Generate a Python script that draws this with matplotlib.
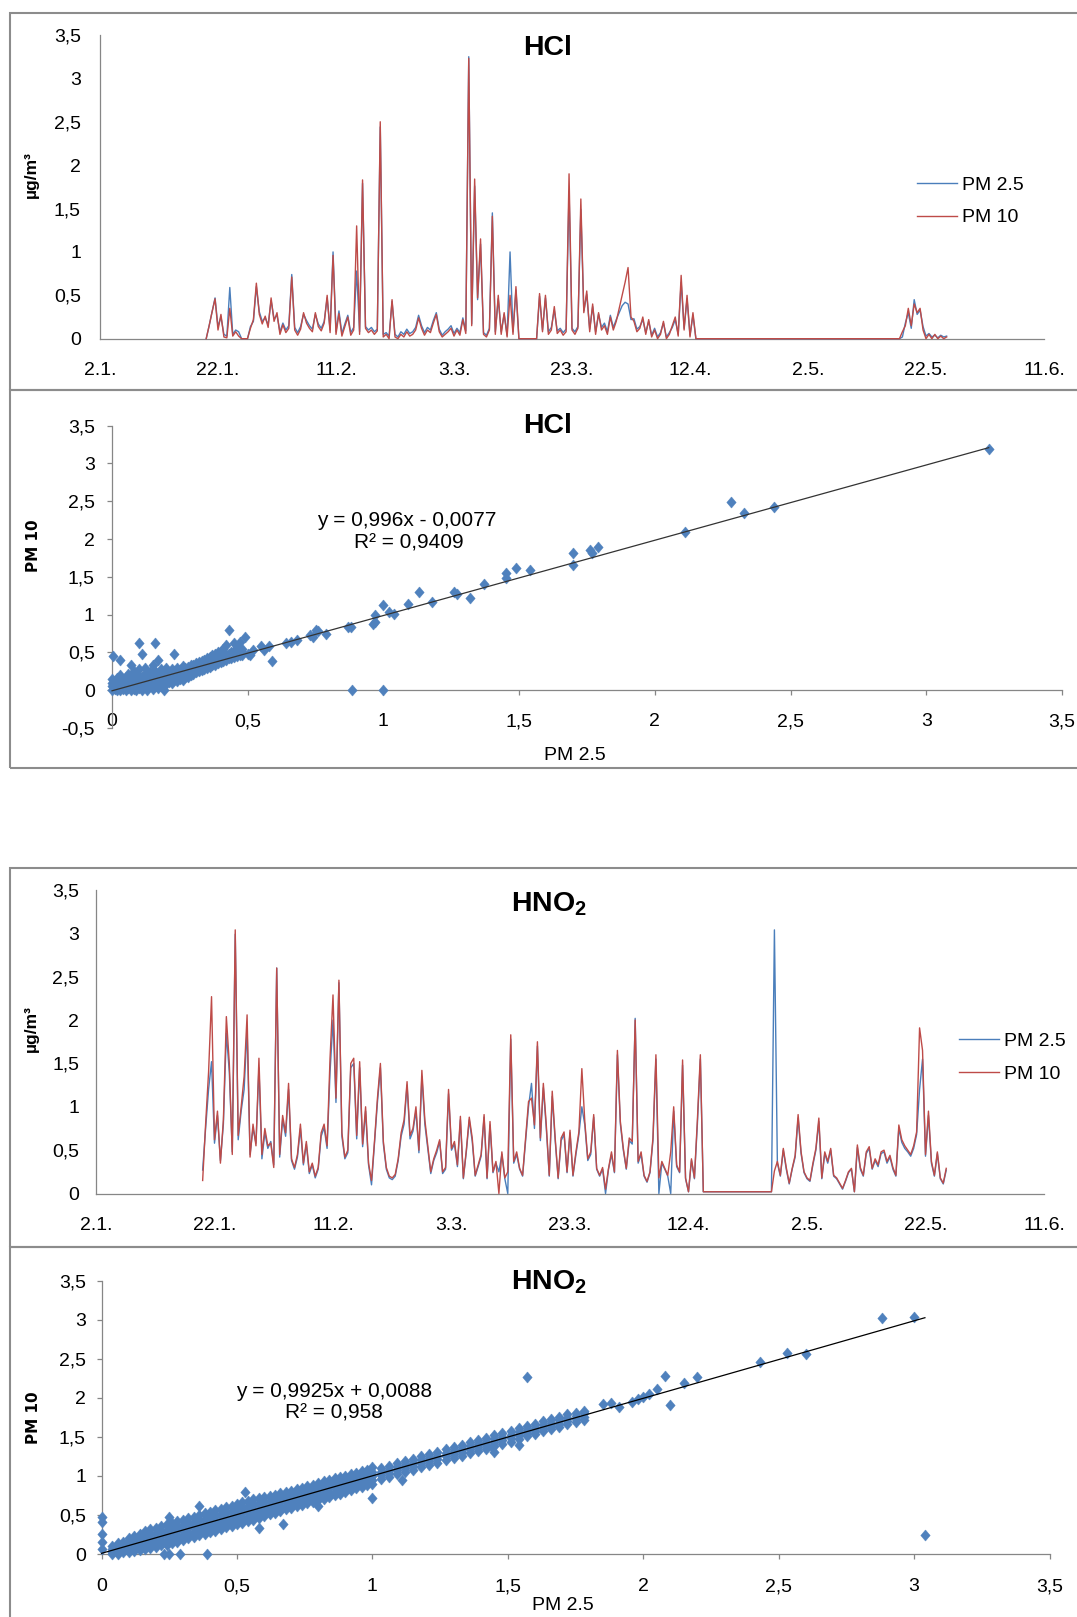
import numpy as np
import matplotlib
matplotlib.use("Agg")
import matplotlib.pyplot as plt
from matplotlib.patches import Rectangle

plt.rcParams["font.family"] = ["Liberation Sans", "DejaVu Sans"]
plt.rcParams["mathtext.fontset"] = "custom"
plt.rcParams["mathtext.rm"] = "Liberation Sans"
plt.rcParams["mathtext.bf"] = "Liberation Sans:bold"
plt.rcParams["mathtext.it"] = "Liberation Sans:italic"

W, H = 1077, 1617

# ---------------- data ----------------
date_ticks = [0, 20, 40, 60, 80, 100, 120, 140, 160]          # days after 2.1.
date_labels = ["2.1.", "22.1.", "11.2.", "3.3.", "23.3.", "12.4.", "2.5.", "22.5.", "11.6."]
value_ticks = [0, 0.5, 1, 1.5, 2, 2.5, 3, 3.5]
hcl_scatter_yticks = [-0.5, 0, 0.5, 1, 1.5, 2, 2.5, 3, 3.5]
series_start = 18.0   # first sample, days after 2.1.
series_step = 0.5     # days between samples

hcl_pm25 = [
    0.00, 0.15, 0.31, 0.47, 0.14, 0.25, 0.05, 0.03, 0.59, 0.05,
    0.10, 0.08, 0.00, 0.00, 0.00, 0.14, 0.20, 0.60, 0.31, 0.20,
    0.24, 0.16, 0.44, 0.23, 0.27, 0.08, 0.18, 0.10, 0.15, 0.74,
    0.13, 0.07, 0.14, 0.28, 0.21, 0.15, 0.11, 0.28, 0.17, 0.12,
    0.20, 0.47, 0.10, 1.00, 0.08, 0.32, 0.06, 0.17, 0.27, 0.07,
    0.13, 0.78, 0.08, 1.79, 0.14, 0.10, 0.13, 0.08, 0.11, 2.44,
    0.05, 0.07, 0.03, 0.43, 0.05, 0.02, 0.08, 0.05, 0.11, 0.06,
    0.08, 0.13, 0.27, 0.15, 0.07, 0.13, 0.10, 0.21, 0.30, 0.11,
    0.04, 0.08, 0.11, 0.15, 0.06, 0.12, 0.07, 0.24, 0.09, 3.25,
    0.17, 1.76, 0.45, 1.09, 0.07, 0.04, 0.12, 1.45, 0.08, 0.46,
    0.08, 0.28, 0.04, 1.00, 0.08, 0.56, 0.00, 0.00, 0.00, 0.00,
    0.00, 0.00, 0.00, 0.49, 0.10, 0.47, 0.08, 0.13, 0.33, 0.09,
    0.12, 0.07, 0.11, 1.70, 0.12, 0.08, 0.14, 1.49, 0.32, 0.51,
    0.11, 0.37, 0.08, 0.28, 0.13, 0.18, 0.08, 0.27, 0.13, 0.22,
    0.30, 0.38, 0.42, 0.40, 0.22, 0.23, 0.11, 0.14, 0.22, 0.07,
    0.20, 0.04, 0.12, 0.02, 0.07, 0.18, 0.02, 0.07, 0.13, 0.22,
    0.05, 0.65, 0.12, 0.46, 0.04, 0.27, 0.00, 0.00, 0.00, 0.00,
    0.00, 0.00, 0.00, 0.00, 0.00, 0.00, 0.00, 0.00, 0.00, 0.00,
    0.00, 0.00, 0.00, 0.00, 0.00, 0.00, 0.00, 0.00, 0.00, 0.00,
    0.00, 0.00, 0.00, 0.00, 0.00, 0.00, 0.00, 0.00, 0.00, 0.00,
    0.00, 0.00, 0.00, 0.00, 0.00, 0.00, 0.00, 0.00, 0.00, 0.00,
    0.00, 0.00, 0.00, 0.00, 0.00, 0.00, 0.00, 0.00, 0.00, 0.00,
    0.00, 0.00, 0.00, 0.00, 0.00, 0.00, 0.00, 0.00, 0.00, 0.00,
    0.00, 0.00, 0.00, 0.00, 0.00, 0.00,
    0.02, 0.18, 0.30, 0.12, 0.45, 0.28, 0.33, 0.14, 0.03, 0.06,
    0.02, 0.04, 0.01, 0.04, 0.02, 0.03,
]
hcl_pm10 = [
    0.00, 0.15, 0.31, 0.46, 0.10, 0.28, 0.02, 0.01, 0.35, 0.03,
    0.08, 0.03, 0.00, 0.00, 0.00, 0.12, 0.22, 0.64, 0.28, 0.17,
    0.26, 0.13, 0.47, 0.20, 0.30, 0.05, 0.16, 0.07, 0.12, 0.71,
    0.10, 0.04, 0.11, 0.30, 0.18, 0.12, 0.08, 0.30, 0.14, 0.09,
    0.18, 0.50, 0.07, 0.96, 0.05, 0.29, 0.03, 0.14, 0.25, 0.04,
    0.10, 1.30, 0.05, 1.83, 0.12, 0.07, 0.10, 0.05, 0.09, 2.50,
    0.02, 0.05, 0.00, 0.45, 0.02, 0.00, 0.05, 0.02, 0.08, 0.03,
    0.05, 0.10, 0.24, 0.12, 0.04, 0.10, 0.07, 0.18, 0.28, 0.08,
    0.02, 0.05, 0.08, 0.12, 0.03, 0.10, 0.04, 0.22, 0.06, 3.23,
    0.15, 1.84, 0.47, 1.15, 0.05, 0.02, 0.10, 1.41, 0.05, 0.50,
    0.05, 0.30, 0.02, 0.50, 0.05, 0.60, 0.00, 0.00, 0.00, 0.00,
    0.00, 0.00, 0.00, 0.52, 0.08, 0.50, 0.05, 0.10, 0.37, 0.06,
    0.10, 0.04, 0.08, 1.90, 0.10, 0.05, 0.12, 1.61, 0.30, 0.55,
    0.08, 0.40, 0.05, 0.30, 0.10, 0.15, 0.05, 0.25, 0.10, 0.20,
    0.35, 0.50, 0.65, 0.82, 0.25, 0.20, 0.08, 0.12, 0.25, 0.05,
    0.22, 0.02, 0.10, 0.00, 0.05, 0.20, 0.00, 0.05, 0.15, 0.25,
    0.03, 0.73, 0.10, 0.50, 0.02, 0.30, 0.00, 0.00, 0.00, 0.00,
    0.00, 0.00, 0.00, 0.00, 0.00, 0.00, 0.00, 0.00, 0.00, 0.00,
    0.00, 0.00, 0.00, 0.00, 0.00, 0.00, 0.00, 0.00, 0.00, 0.00,
    0.00, 0.00, 0.00, 0.00, 0.00, 0.00, 0.00, 0.00, 0.00, 0.00,
    0.00, 0.00, 0.00, 0.00, 0.00, 0.00, 0.00, 0.00, 0.00, 0.00,
    0.00, 0.00, 0.00, 0.00, 0.00, 0.00, 0.00, 0.00, 0.00, 0.00,
    0.00, 0.00, 0.00, 0.00, 0.00, 0.00, 0.00, 0.00, 0.00, 0.00,
    0.00, 0.00, 0.00, 0.00, 0.00, 0.00,
    0.08, 0.15, 0.35, 0.15, 0.40, 0.30, 0.35, 0.10, 0.00, 0.05,
    0.00, 0.05, 0.00, 0.03, 0.00, 0.02,
]

hno2_pm25 = [
    0.27, 0.75, 1.20, 1.52, 0.58, 0.90, 0.38, 0.80, 1.85, 1.40,
    0.48, 2.99, 0.62, 0.95, 1.20, 1.90, 0.45, 0.75, 0.58, 1.45,
    0.40, 0.70, 0.52, 0.60, 0.33, 2.60, 0.42, 0.85, 0.66, 1.20,
    0.38, 0.28, 0.42, 0.75, 0.33, 0.57, 0.23, 0.33, 0.18, 0.28,
    0.66, 0.76, 0.52, 1.40, 2.00, 1.05, 2.43, 0.66, 0.40, 0.47,
    1.45, 1.50, 0.63, 1.45, 0.54, 0.95, 0.33, 0.10, 0.57, 1.05,
    1.45, 0.57, 0.28, 0.18, 0.16, 0.20, 0.38, 0.66, 0.80, 1.25,
    0.63, 0.72, 0.95, 0.47, 1.35, 0.80, 0.52, 0.23, 0.38, 0.47,
    0.60, 0.23, 0.28, 1.15, 0.50, 0.57, 0.31, 0.85, 0.17, 0.48,
    0.85, 0.60, 0.20, 0.31, 0.43, 0.88, 0.17, 0.79, 0.24, 0.35,
    0.25, 0.45, 0.17, 0.00, 1.78, 0.35, 0.45, 0.28, 0.20, 0.60,
    1.00, 1.27, 0.75, 1.70, 0.61, 1.22, 0.75, 0.20, 1.12, 0.61,
    0.17, 0.61, 0.68, 0.24, 0.70, 0.20, 0.45, 0.68, 1.00, 0.79,
    0.38, 0.45, 0.88, 0.28, 0.20, 0.28, 0.00, 0.28, 0.45, 0.24,
    1.60, 0.80, 0.50, 0.28, 0.61, 0.57, 2.02, 0.35, 0.45, 0.20,
    0.13, 0.24, 0.61, 1.55, 0.00, 0.35, 0.28, 0.20, 0.00, 0.95,
    0.31, 0.24, 1.48, 0.17, 0.02, 0.38, 0.17, 0.80, 1.55, 0.02,
    0.02, 0.02, 0.02, 0.02, 0.02, 0.02, 0.02, 0.02, 0.02, 0.02,
    0.02, 0.02, 0.02, 0.02, 0.02, 0.02, 0.02, 0.02, 0.02, 0.02,
    0.02, 0.02, 0.02,
    3.04, 0.35, 0.20, 0.50, 0.28, 0.11, 0.28, 0.42, 0.87, 0.46,
    0.24, 0.17, 0.14, 0.33, 0.50, 0.83, 0.17, 0.46, 0.35, 0.50,
    0.20, 0.17, 0.11, 0.05, 0.14, 0.24, 0.28, 0.02, 0.53, 0.28,
    0.20, 0.46, 0.52, 0.28, 0.38, 0.31, 0.46, 0.48, 0.35, 0.42,
    0.28, 0.20, 0.75, 0.59, 0.52, 0.48, 0.43, 0.52, 0.68, 1.20,
    1.55, 0.43, 0.90, 0.35, 0.20, 0.46, 0.17, 0.11, 0.27,
]
hno2_pm10 = [
    0.15, 0.80, 1.40, 2.27, 0.62, 0.95, 0.35, 0.85, 2.04, 1.50,
    0.45, 3.04, 0.67, 1.00, 1.35, 2.06, 0.42, 0.80, 0.55, 1.56,
    0.45, 0.75, 0.55, 0.58, 0.30, 2.60, 0.45, 0.90, 0.70, 1.27,
    0.40, 0.30, 0.45, 0.80, 0.35, 0.60, 0.25, 0.35, 0.20, 0.30,
    0.70, 0.80, 0.55, 1.56, 2.29, 1.10, 2.46, 0.70, 0.42, 0.50,
    1.50, 1.56, 0.67, 1.52, 0.57, 1.00, 0.35, 0.15, 0.60, 1.10,
    1.50, 0.60, 0.30, 0.20, 0.18, 0.22, 0.40, 0.70, 0.85, 1.29,
    0.67, 0.75, 1.00, 0.50, 1.42, 0.85, 0.55, 0.25, 0.40, 0.50,
    0.62, 0.25, 0.30, 1.20, 0.52, 0.60, 0.33, 0.89, 0.18, 0.50,
    0.88, 0.64, 0.21, 0.33, 0.45, 0.91, 0.18, 0.83, 0.25, 0.37,
    0.00, 0.48, 0.18, 0.25, 1.83, 0.37, 0.48, 0.29, 0.21, 0.64,
    1.06, 1.10, 0.79, 1.75, 0.64, 1.27, 0.79, 0.21, 1.18, 0.64,
    0.18, 0.64, 0.71, 0.25, 0.73, 0.21, 0.48, 0.71, 1.44, 0.83,
    0.40, 0.48, 0.91, 0.29, 0.21, 0.30, 0.05, 0.29, 0.48, 0.25,
    1.65, 0.83, 0.52, 0.29, 0.64, 0.60, 2.00, 0.37, 0.48, 0.21,
    0.14, 0.25, 0.64, 1.60, 0.18, 0.37, 0.29, 0.21, 0.48, 1.00,
    0.33, 0.25, 1.54, 0.18, 0.02, 0.40, 0.18, 0.85, 1.60, 0.02,
    0.02, 0.02, 0.02, 0.02, 0.02, 0.02, 0.02, 0.02, 0.02, 0.02,
    0.02, 0.02, 0.02, 0.02, 0.02, 0.02, 0.02, 0.02, 0.02, 0.02,
    0.02, 0.02, 0.02,
    0.26, 0.37, 0.21, 0.52, 0.30, 0.12, 0.29, 0.44, 0.91, 0.48,
    0.25, 0.18, 0.15, 0.35, 0.52, 0.87, 0.18, 0.48, 0.37, 0.52,
    0.21, 0.18, 0.12, 0.06, 0.15, 0.25, 0.29, 0.02, 0.56, 0.30,
    0.21, 0.48, 0.54, 0.29, 0.40, 0.33, 0.48, 0.50, 0.37, 0.44,
    0.30, 0.21, 0.79, 0.62, 0.55, 0.50, 0.45, 0.55, 0.71, 1.91,
    1.65, 0.45, 0.95, 0.37, 0.21, 0.48, 0.18, 0.12, 0.29,
]

hcl_sc_pm25 = [
    3.23, 2.28, 2.33, 2.44, 2.11, 1.70, 1.70, 1.76, 1.79, 1.77,
    1.45, 1.45, 1.49, 1.54, 1.37, 1.32, 1.26, 1.27, 1.18, 1.13,
    1.09, 1.00, 1.02, 1.04, 0.97, 0.96, 0.97, 0.87, 0.88, 0.79,
    0.76, 0.75, 0.73, 0.74, 0.68, 0.64, 0.66, 0.58, 0.59, 0.56,
    0.55, 0.51, 0.49, 0.47, 0.43, 0.46, 0.885, 1.00, 0.10, 0.16,
    0.11, 0.005, 0.03, 0.07, 0.17, 0.23, 0.19,
    0.00, 0.00, 0.00, 0.00,
    0.01, 0.01, 0.01,
    0.02, 0.02, 0.02, 0.02,
    0.03, 0.03, 0.03, 0.03,
    0.04, 0.04, 0.04,
    0.05, 0.05, 0.05, 0.05,
    0.06, 0.06, 0.06, 0.06,
    0.07, 0.07, 0.07, 0.07,
    0.08, 0.08, 0.08, 0.08,
    0.09, 0.09, 0.09, 0.09, 0.09,
    0.10, 0.10, 0.10, 0.10, 0.10,
    0.11, 0.11, 0.11, 0.11,
    0.12, 0.12, 0.12, 0.12, 0.12,
    0.13, 0.13, 0.13, 0.13,
    0.14, 0.14, 0.14, 0.14,
    0.15, 0.15, 0.15, 0.15, 0.15,
    0.16, 0.16, 0.16, 0.16,
    0.17, 0.17, 0.17, 0.17,
    0.18, 0.18, 0.18, 0.18,
    0.19, 0.19, 0.19,
    0.20, 0.20, 0.20, 0.20,
    0.21, 0.21, 0.21,
    0.22, 0.22, 0.22, 0.22,
    0.23, 0.23, 0.23,
    0.24, 0.24, 0.24, 0.24,
    0.25, 0.25, 0.25,
    0.26, 0.26, 0.26, 0.26,
    0.27, 0.27, 0.27,
    0.28, 0.28, 0.28,
    0.29, 0.29, 0.29,
    0.30, 0.30, 0.30,
    0.31, 0.31, 0.31,
    0.32, 0.32, 0.32,
    0.33, 0.33, 0.33,
    0.34, 0.34, 0.34,
    0.35, 0.35, 0.35,
    0.36, 0.36, 0.36,
    0.37, 0.37, 0.37,
    0.38, 0.38, 0.38,
    0.39, 0.39, 0.39,
    0.40, 0.40, 0.40,
    0.41, 0.41, 0.41,
    0.42, 0.42, 0.42,
    0.43, 0.43,
    0.44, 0.44,
    0.45, 0.45, 0.45,
    0.46, 0.46,
    0.47, 0.47,
    0.48, 0.48, 0.48,
    0.50, 0.52,
]
hcl_sc_pm10 = [
    3.19, 2.49, 2.34, 2.42, 2.10, 1.81, 1.66, 1.85, 1.89, 1.81,
    1.55, 1.49, 1.62, 1.59, 1.41, 1.22, 1.30, 1.27, 1.17, 1.30,
    1.14, 1.13, 1.04, 1.01, 1.00, 0.87, 0.90, 0.84, 0.83, 0.75,
    0.78, 0.80, 0.73, 0.71, 0.66, 0.62, 0.64, 0.58, 0.39, 0.53,
    0.59, 0.47, 0.71, 0.64, 0.80, 0.56, 0.00, 0.00, 0.63, 0.62,
    0.48, 0.45, 0.40, 0.33, 0.40, 0.48, 0.00,
    0.00, 0.05, 0.10, 0.15,
    0.02, 0.08, 0.12,
    0.00, 0.04, 0.10, 0.16,
    0.00, 0.06, 0.13, 0.20,
    0.02, 0.08, 0.12,
    0.00, 0.05, 0.10, 0.17,
    0.03, 0.09, 0.14, 0.22,
    0.00, 0.06, 0.12, 0.18,
    0.02, 0.08, 0.14, 0.25,
    0.00, 0.05, 0.10, 0.16, 0.20,
    0.03, 0.09, 0.13, 0.19, 0.28,
    0.00, 0.06, 0.12, 0.17,
    0.04, 0.10, 0.15, 0.22, 0.30,
    0.00, 0.07, 0.13, 0.18,
    0.05, 0.11, 0.16, 0.24,
    0.02, 0.08, 0.14, 0.20, 0.33,
    0.06, 0.12, 0.18, 0.26,
    0.03, 0.10, 0.15, 0.22,
    0.07, 0.13, 0.20, 0.28,
    0.10, 0.16, 0.24,
    0.08, 0.14, 0.20, 0.30,
    0.11, 0.17, 0.23,
    0.10, 0.15, 0.21, 0.28,
    0.13, 0.19, 0.25,
    0.12, 0.18, 0.24, 0.30,
    0.15, 0.21, 0.27,
    0.14, 0.20, 0.26, 0.32,
    0.17, 0.23, 0.29,
    0.18, 0.25, 0.31,
    0.20, 0.27, 0.33,
    0.22, 0.28, 0.34,
    0.24, 0.30, 0.36,
    0.25, 0.31, 0.37,
    0.27, 0.33, 0.38,
    0.28, 0.34, 0.40,
    0.30, 0.36, 0.42,
    0.31, 0.37, 0.44,
    0.33, 0.39, 0.46,
    0.34, 0.40, 0.48,
    0.36, 0.42, 0.50,
    0.37, 0.43, 0.52,
    0.39, 0.45, 0.55,
    0.40, 0.46, 0.60,
    0.42, 0.48,
    0.43, 0.50,
    0.44, 0.52, 0.63,
    0.45, 0.50,
    0.47, 0.52,
    0.46, 0.50, 0.55,
    0.48, 0.53,
]
hcl_fit = (0.996, -0.0077)
hcl_r2 = "0,9409"

hno2_sc_pm25 = [
    2.88, 3.00, 2.53, 2.60, 2.43, 2.20, 2.08, 2.15, 2.05, 2.10,
    2.02, 2.00, 1.98, 1.96, 1.91, 1.88, 1.85, 1.57, 3.04, 1.54,
    1.45, 1.44, 1.11, 1.00, 0.80, 0.67, 0.58, 0.39, 0.29, 0.25,
    0.23, 0.06, 0.00, 0.00, 0.00, 0.00, 0.00, 0.53, 0.36, 0.25,
    0.04, 0.04, 0.04, 0.04,
    0.06, 0.06, 0.06, 0.06,
    0.08, 0.08, 0.08, 0.08,
    0.10, 0.10, 0.10, 0.10, 0.10,
    0.12, 0.12, 0.12, 0.12, 0.12,
    0.14, 0.14, 0.14, 0.14, 0.14,
    0.16, 0.16, 0.16, 0.16, 0.16,
    0.18, 0.18, 0.18, 0.18, 0.18,
    0.20, 0.20, 0.20, 0.20, 0.20,
    0.22, 0.22, 0.22, 0.22, 0.22,
    0.24, 0.24, 0.24, 0.24, 0.24,
    0.26, 0.26, 0.26, 0.26, 0.26,
    0.28, 0.28, 0.28, 0.28, 0.28,
    0.30, 0.30, 0.30, 0.30, 0.30,
    0.32, 0.32, 0.32, 0.32, 0.32,
    0.34, 0.34, 0.34, 0.34, 0.34,
    0.36, 0.36, 0.36, 0.36, 0.36,
    0.38, 0.38, 0.38, 0.38, 0.38,
    0.40, 0.40, 0.40, 0.40, 0.40,
    0.42, 0.42, 0.42, 0.42, 0.42,
    0.44, 0.44, 0.44, 0.44, 0.44,
    0.46, 0.46, 0.46, 0.46, 0.46,
    0.48, 0.48, 0.48, 0.48, 0.48,
    0.50, 0.50, 0.50, 0.50, 0.50,
    0.52, 0.52, 0.52, 0.52, 0.52,
    0.54, 0.54, 0.54, 0.54, 0.54,
    0.56, 0.56, 0.56, 0.56, 0.56,
    0.58, 0.58, 0.58, 0.58, 0.58,
    0.60, 0.60, 0.60, 0.60, 0.60,
    0.62, 0.62, 0.62, 0.62, 0.62,
    0.64, 0.64, 0.64, 0.64, 0.64,
    0.66, 0.66, 0.66, 0.66, 0.66,
    0.68, 0.68, 0.68, 0.68, 0.68,
    0.70, 0.70, 0.70, 0.70, 0.70,
    0.72, 0.72, 0.72, 0.72, 0.72,
    0.74, 0.74, 0.74, 0.74, 0.74,
    0.76, 0.76, 0.76, 0.76, 0.76,
    0.78, 0.78, 0.78, 0.78, 0.78,
    0.80, 0.80, 0.80, 0.80, 0.80,
    0.82, 0.82, 0.82, 0.82, 0.82,
    0.84, 0.84, 0.84, 0.84, 0.84,
    0.86, 0.86, 0.86, 0.86, 0.86,
    0.88, 0.88, 0.88, 0.88, 0.88,
    0.90, 0.90, 0.90, 0.90, 0.90,
    0.92, 0.92, 0.92, 0.92, 0.92,
    0.94, 0.94, 0.94, 0.94, 0.94,
    0.96, 0.96, 0.96, 0.96, 0.96,
    0.98, 0.98, 0.98, 0.98, 0.98,
    1.00, 1.00, 1.00, 1.00, 1.00,
    1.03, 1.03, 1.03, 1.03,
    1.06, 1.06, 1.06, 1.06,
    1.09, 1.09, 1.09, 1.09,
    1.12, 1.12, 1.12, 1.12,
    1.15, 1.15, 1.15, 1.15,
    1.18, 1.18, 1.18, 1.18,
    1.21, 1.21, 1.21, 1.21,
    1.24, 1.24, 1.24, 1.24,
    1.27, 1.27, 1.27, 1.27,
    1.30, 1.30, 1.30, 1.30,
    1.33, 1.33, 1.33, 1.33,
    1.36, 1.36, 1.36, 1.36,
    1.39, 1.39, 1.39, 1.39,
    1.42, 1.42, 1.42, 1.42,
    1.45, 1.45, 1.45, 1.45,
    1.48, 1.48, 1.48, 1.48,
    1.51, 1.51, 1.51, 1.51,
    1.54, 1.54, 1.54, 1.54,
    1.57, 1.57, 1.57, 1.57,
    1.60, 1.60, 1.60, 1.60,
    1.63, 1.63, 1.63, 1.63,
    1.66, 1.66, 1.66, 1.66,
    1.69, 1.69, 1.69, 1.69,
    1.72, 1.72, 1.72, 1.72,
    1.75, 1.75, 1.75, 1.75,
    1.78, 1.78, 1.78, 1.78,
]
hno2_sc_pm10 = [
    3.02, 3.03, 2.58, 2.56, 2.46, 2.27, 2.28, 2.19, 2.11, 1.91,
    2.05, 2.01, 1.98, 1.95, 1.88, 1.94, 1.92, 2.27, 0.24, 1.40,
    1.30, 1.37, 0.95, 0.72, 0.61, 0.38, 0.33, 0.00, 0.00, 0.00,
    0.00, 0.00, 0.48, 0.41, 0.26, 0.16, 0.07, 0.79, 0.61, 0.48,
    0.00, 0.03, 0.06, 0.10,
    0.02, 0.05, 0.09, 0.14,
    0.03, 0.07, 0.11, 0.16,
    0.02, 0.06, 0.10, 0.15, 0.20,
    0.04, 0.08, 0.13, 0.18, 0.23,
    0.05, 0.10, 0.15, 0.20, 0.26,
    0.06, 0.11, 0.17, 0.23, 0.29,
    0.08, 0.13, 0.19, 0.25, 0.32,
    0.09, 0.15, 0.21, 0.27, 0.33,
    0.11, 0.17, 0.23, 0.29, 0.36,
    0.12, 0.18, 0.25, 0.31, 0.38,
    0.14, 0.20, 0.27, 0.33, 0.40,
    0.16, 0.22, 0.29, 0.35, 0.42,
    0.18, 0.24, 0.31, 0.37, 0.44,
    0.20, 0.26, 0.33, 0.39, 0.46,
    0.22, 0.28, 0.35, 0.41, 0.48,
    0.24, 0.30, 0.36, 0.43, 0.50,
    0.26, 0.32, 0.38, 0.45, 0.52,
    0.28, 0.34, 0.40, 0.47, 0.54,
    0.30, 0.36, 0.42, 0.49, 0.56,
    0.32, 0.38, 0.44, 0.51, 0.58,
    0.34, 0.40, 0.46, 0.53, 0.60,
    0.36, 0.42, 0.48, 0.55, 0.62,
    0.38, 0.44, 0.50, 0.57, 0.64,
    0.40, 0.46, 0.52, 0.59, 0.66,
    0.42, 0.48, 0.54, 0.61, 0.68,
    0.44, 0.50, 0.56, 0.63, 0.70,
    0.46, 0.52, 0.58, 0.65, 0.72,
    0.49, 0.54, 0.60, 0.66, 0.73,
    0.51, 0.56, 0.62, 0.68, 0.74,
    0.53, 0.58, 0.64, 0.70, 0.76,
    0.55, 0.60, 0.66, 0.72, 0.78,
    0.57, 0.62, 0.68, 0.74, 0.80,
    0.59, 0.64, 0.70, 0.76, 0.81,
    0.61, 0.66, 0.72, 0.78, 0.83,
    0.63, 0.68, 0.74, 0.80, 0.85,
    0.65, 0.70, 0.76, 0.82, 0.87,
    0.67, 0.72, 0.78, 0.84, 0.89,
    0.69, 0.74, 0.80, 0.86, 0.91,
    0.71, 0.76, 0.82, 0.88, 0.93,
    0.73, 0.78, 0.84, 0.90, 0.95,
    0.75, 0.80, 0.86, 0.92, 0.97,
    0.77, 0.82, 0.88, 0.94, 0.99,
    0.80, 0.85, 0.90, 0.95, 1.00,
    0.82, 0.87, 0.92, 0.97, 1.02,
    0.84, 0.89, 0.94, 0.99, 1.04,
    0.86, 0.91, 0.96, 1.01, 1.06,
    0.88, 0.93, 0.98, 1.03, 1.08,
    0.90, 0.95, 1.00, 1.05, 1.12,
    0.96, 1.01, 1.05, 1.10,
    0.99, 1.04, 1.08, 1.13,
    1.02, 1.07, 1.11, 1.16,
    1.05, 1.10, 1.14, 1.19,
    1.08, 1.13, 1.17, 1.22,
    1.11, 1.16, 1.20, 1.25,
    1.14, 1.19, 1.23, 1.28,
    1.17, 1.22, 1.26, 1.31,
    1.20, 1.25, 1.29, 1.34,
    1.23, 1.28, 1.32, 1.37,
    1.26, 1.31, 1.35, 1.40,
    1.29, 1.34, 1.38, 1.43,
    1.32, 1.37, 1.41, 1.46,
    1.35, 1.40, 1.44, 1.49,
    1.38, 1.43, 1.47, 1.52,
    1.41, 1.46, 1.50, 1.55,
    1.44, 1.49, 1.53, 1.58,
    1.47, 1.52, 1.56, 1.61,
    1.51, 1.55, 1.59, 1.64,
    1.54, 1.58, 1.62, 1.67,
    1.57, 1.61, 1.65, 1.70,
    1.60, 1.64, 1.68, 1.73,
    1.63, 1.67, 1.71, 1.76,
    1.66, 1.70, 1.74, 1.79,
    1.69, 1.73, 1.77, 1.81,
    1.72, 1.76, 1.80, 1.83,
]
hno2_fit = (0.9925, 0.0088)
hno2_r2 = "0,958"

assert len(hcl_sc_pm25) == len(hcl_sc_pm10), (len(hcl_sc_pm25), len(hcl_sc_pm10))
assert len(hno2_sc_pm25) == len(hno2_sc_pm10), (len(hno2_sc_pm25), len(hno2_sc_pm10))

# ---------------- style ----------------
BLUE = "#4A7EBB"
RED = "#BE4B48"
MARK = "#4F81BD"
GRAY = "#868686"
FRAME = "#8C8C8C"
DIAMOND = [(0, 1), (0.85, 0), (0, -1), (-0.85, 0), (0, 1)]

fig = plt.figure(figsize=(W / 100, H / 100), dpi=100)


def px_axes(l, t, r, b):
    return fig.add_axes([l / W, 1 - b / H, (r - l) / W, (b - t) / H])


def frame(t, b):
    fig.add_artist(Rectangle((9.6 / W, 1 - b / H), (1095 - 9.6) / W, (b - t) / H,
                             transform=fig.transFigure, fill=False, ec=FRAME, lw=1.5))


def fmt(v):
    return ("%g" % v).replace(".", ",")


def style_axes(ax, xpad, ypad, ticklen):
    for s in ("top", "right"):
        ax.spines[s].set_visible(False)
    for s in ("left", "bottom"):
        ax.spines[s].set_color(GRAY)
        ax.spines[s].set_linewidth(0.9)
    ax.tick_params(axis="both", colors=GRAY, labelcolor="black", labelsize=14,
                   length=ticklen, width=0.9, direction="out")
    ax.tick_params(axis="x", pad=xpad)
    ax.tick_params(axis="y", pad=ypad)
    ax.patch.set_visible(False)


def draw_series(ax, pm25, pm10, legend_x, legend_top, spacing):
    t25 = series_start + series_step * np.arange(len(pm25))
    t10 = series_start + series_step * np.arange(len(pm10))
    ax.plot(t25, pm25, color=BLUE, lw=1.0, clip_on=False, zorder=3, label="PM 2.5")
    ax.plot(t10, pm10, color=RED, lw=1.0, clip_on=False, zorder=4, label="PM 10")
    ax.set_xlim(0, 160)
    ax.set_ylim(0, 3.5)
    ax.set_xticks(date_ticks)
    ax.set_xticklabels(date_labels)
    ax.set_yticks(value_ticks)
    ax.set_yticklabels([fmt(v) for v in value_ticks])
    ax.legend(loc="upper left", bbox_to_anchor=(legend_x / W, 1 - legend_top / H),
              bbox_transform=fig.transFigure, frameon=False, fontsize=14,
              handlelength=2.06, handletextpad=0.26, labelspacing=spacing,
              borderpad=0, borderaxespad=0)


def draw_scatter(ax, x, y, fit, ylo, yticks, line_color):
    ax.plot(x, y, ls="none", marker=DIAMOND, ms=8, mfc=MARK, mec=MARK, mew=0.3,
            clip_on=False, zorder=3)
    xs = np.array([min(x), max(x)])
    ax.plot(xs, fit[0] * xs + fit[1], color=line_color, lw=0.9, zorder=5, clip_on=False)
    ax.set_xlim(0, 3.5)
    ax.set_ylim(ylo, 3.5)
    ax.spines["bottom"].set_position(("data", 0))
    ax.set_xticks(value_ticks)
    ax.set_xticklabels([fmt(v) for v in value_ticks])
    ax.set_yticks(yticks)
    ax.set_yticklabels([fmt(v) for v in yticks])


def eq_text(fit):
    sign = "-" if fit[1] < 0 else "+"
    return "y = %sx %s %s" % (fmt(fit[0]), sign, fmt(abs(fit[1])))


# frames
frame(12.7, 390)
frame(390, 767.7)
frame(868.3, 1247)
frame(1246.5, 1650)

# ---- panel 1: HCl time series ----
ax1 = px_axes(100, 35, 1044, 338.7)
style_axes(ax1, 16.5, 13.7, 0)
draw_series(ax1, hcl_pm25, hcl_pm10, 917, 176, 0.78)
fig.text(548 / W, 1 - 55 / H, "HCl", ha="center", va="baseline", fontsize=20.5, fontweight="bold")
fig.text(31 / W, 1 - 175 / H, "µg/m³", rotation=90, ha="center", va="center",
         fontsize=12.5, fontweight="bold")

# ---- panel 2: HCl scatter ----
ax2 = px_axes(112, 425.7, 1062, 728)
style_axes(ax2, 13, 8.8, 3.6)
draw_scatter(ax2, hcl_sc_pm25, hcl_sc_pm10, hcl_fit, -0.5, hcl_scatter_yticks, "#333333")
fig.text(548 / W, 1 - 433.3 / H, "HCl", ha="center", va="baseline", fontsize=20.5, fontweight="bold")
fig.text(407 / W, 1 - 526 / H, eq_text(hcl_fit), ha="center", va="baseline", fontsize=15)
fig.text(408.6 / W, 1 - 548 / H, "R² = " + hcl_r2, ha="center", va="baseline", fontsize=15)
fig.text(574.5 / W, 1 - 755 / H, "PM 2.5", ha="center", va="center", fontsize=14)
fig.text(33 / W, 1 - 546 / H, "PM 10", rotation=90, ha="center", va="center",
         fontsize=11, fontweight="bold", family=["DejaVu Sans"])

# ---- panel 3: HNO2 time series ----
ax3 = px_axes(96, 890, 1044, 1193.5)
style_axes(ax3, 16.7, 12.2, 0)
draw_series(ax3, hno2_pm25, hno2_pm10, 959, 1032, 0.79)
fig.text(549 / W, 1 - 911.7 / H, r"$\mathbf{HNO_2}$", ha="center", va="baseline", fontsize=20.5)
fig.text(31 / W, 1 - 1029 / H, "µg/m³", rotation=90, ha="center", va="center",
         fontsize=12.5, fontweight="bold")

# ---- panel 4: HNO2 scatter ----
ax4 = px_axes(101.6, 1280.7, 1049.5, 1554)
style_axes(ax4, 14, 7.7, 3.6)
draw_scatter(ax4, hno2_sc_pm25, hno2_sc_pm10, hno2_fit, 0, value_ticks, "black")
fig.text(549 / W, 1 - 1289.3 / H, r"$\mathbf{HNO_2}$", ha="center", va="baseline", fontsize=20.5)
fig.text(334 / W, 1 - 1397 / H, eq_text(hno2_fit), ha="center", va="baseline", fontsize=15)
fig.text(334 / W, 1 - 1418 / H, "R² = " + hno2_r2, ha="center", va="baseline", fontsize=15)
fig.text(563 / W, 1 - 1605 / H, "PM 2.5", ha="center", va="center", fontsize=14)
fig.text(34 / W, 1 - 1418 / H, "PM 10", rotation=90, ha="center", va="center",
         fontsize=11, fontweight="bold", family=["DejaVu Sans"])

fig.savefig("out.png", dpi=100, facecolor="white")
